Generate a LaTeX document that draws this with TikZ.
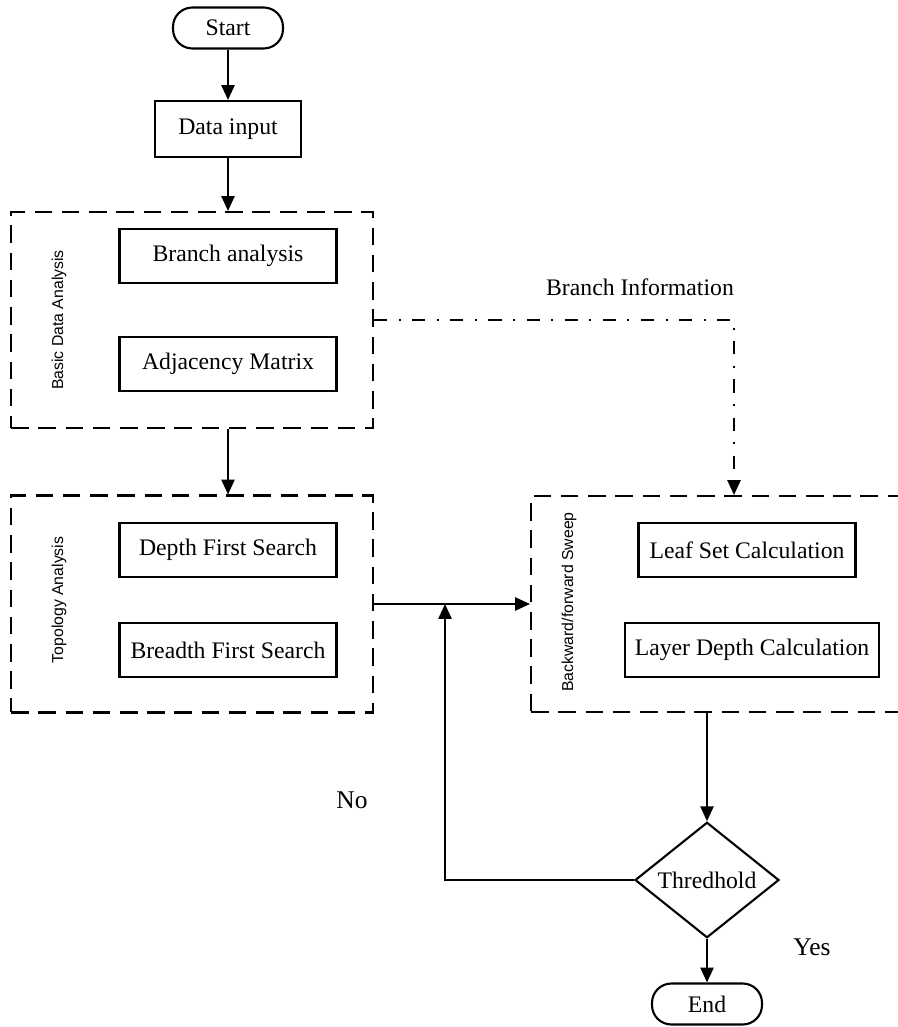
\documentclass[tikz,border=0pt]{standalone}
\usepackage{fontspec}
\setmainfont{Liberation Serif}
\setsansfont{Liberation Sans}
\usetikzlibrary{arrows.meta,shapes.geometric}

\tikzset{
  flow/.style={line width=1.2pt,-{Triangle[length=8.5pt,width=7.5pt]}},
  proc/.style={draw,line width=1.2pt,minimum width=4.34cm,minimum height=1.08cm,
    font=\fontsize{13.5}{16}\selectfont},
  term/.style={draw,line width=1.2pt,rounded corners=11pt,minimum width=2.2cm,
    minimum height=0.82cm,font=\fontsize{13.5}{16}\selectfont},
  group/.style={draw,line width=1.2pt,dash pattern=on 10pt off 5.5pt,inner sep=0pt},
  grouplabel/.style={rotate=90,font=\sffamily\fontsize{9}{11}\selectfont},
  info/.style={line width=1.2pt,dash pattern=on 7.5pt off 6.5pt on 1.2pt off 6.5pt,
    -{Triangle[length=8.5pt,width=7.5pt]}},
  decide/.style={draw,line width=1.2pt,diamond,inner sep=0pt,minimum width=2.88cm,
    minimum height=2.14cm,font=\fontsize{13.5}{16}\selectfont},
  tag/.style={font=\fontsize{14.5}{17}\selectfont}
}

\begin{document}
\begin{tikzpicture}[x=0.02cm,y=-0.02cm]
  \useasboundingbox (0,0) rectangle (898,1027);
  \clip (0,0) rectangle (898,1027);

  \node[term] (start) at (228,28) {Start};
  \node[proc,minimum width=2.92cm,minimum height=1.12cm] (input) at (228,129) {Data input};

  % basic data analysis
  \node[group,minimum width=7.24cm,minimum height=4.32cm] (basic) at (192,320) {};
  \node[grouplabel] (basiclab) at (59,320) {Basic Data Analysis};
  \node[proc] (branch) at (228,256) {Branch analysis};
  \node[proc] (adj) at (228,364) {Adjacency Matrix};

  % topology analysis
  \node[group,minimum width=7.24cm,minimum height=4.34cm] (topo) at (192,604) {};
  \node[grouplabel] (topolab) at (59,600) {Topology Analysis};
  \node[proc] (dfs) at (228,550) {Depth First Search};
  \node[proc] (bfs) at (228,650) {Breadth First Search};

  % sweep
  \node[group,minimum width=8.12cm,minimum height=4.32cm] (sweep) at (734,604) {};
  \node[grouplabel] (sweeplab) at (569,602) {Backward/forward Sweep};
  \node[proc] (leaf) at (747,550) {Leaf Set Calculation};
  \node[proc,minimum width=5.08cm] (layer) at (752,650) {Layer Depth Calculation};

  \node[decide] (thr) at (707,880) {Thredhold};
  \node[term] (end) at (707,1004) {End};

  \coordinate (merge) at (445,604);

  \draw[flow] (start) -- (input);
  \draw[flow] (input.south) -- (input.south |- basic.north);
  \draw[flow] (adj.south |- basic.south) -- (adj.south |- topo.north);
  \draw[flow] (topo.east) -- (sweep.west);
  \draw[info] (basic.east) -| (sweep.north);
  \draw[flow] (thr.north |- sweep.south) -- (thr.north);
  \draw[flow] (thr.south) -- (end.north);
  \draw[flow] (thr.west) -| (merge);

  \node[tag,font=\fontsize{13.5}{16}\selectfont] (infolab) at (640,287) {Branch Information};
  \node[tag] (nolab) at (352,800) {No};
  \node[tag] (yeslab) at (812,947) {Yes};
\end{tikzpicture}
\end{document}
